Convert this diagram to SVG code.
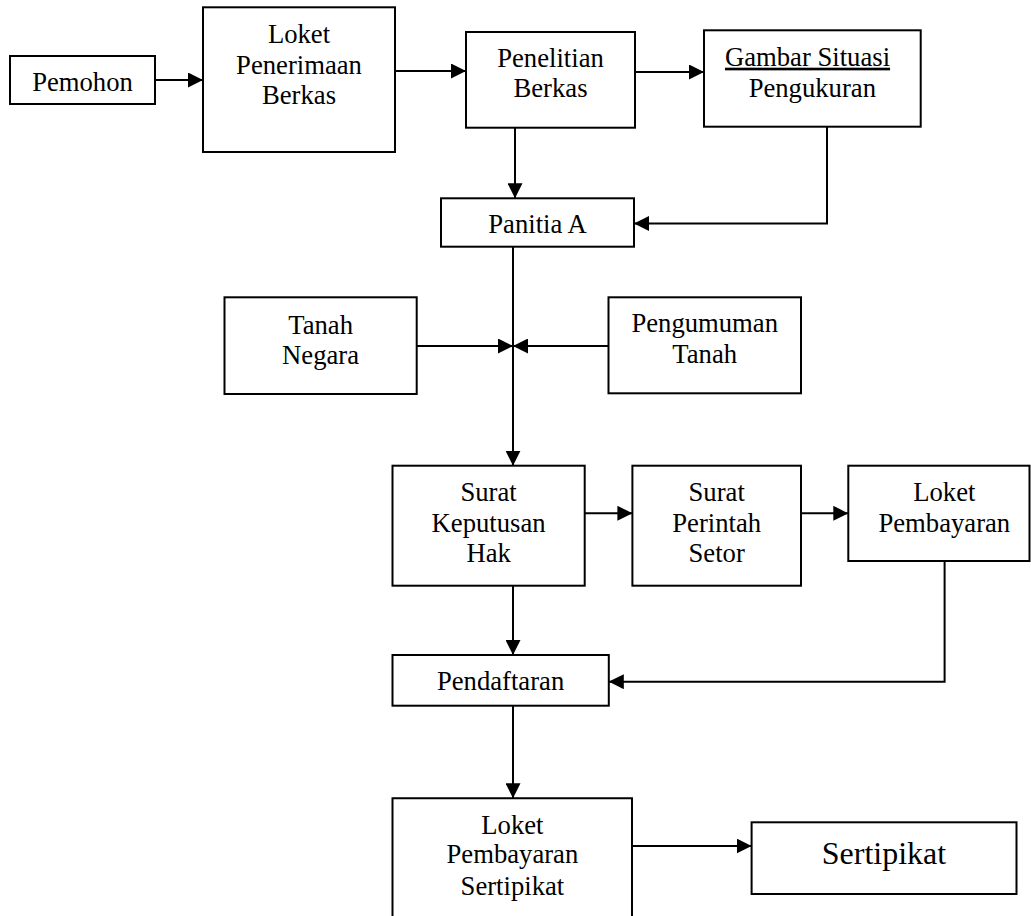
<svg xmlns="http://www.w3.org/2000/svg" width="1031" height="916" viewBox="0 0 1031 916">
<style>
.box{fill:#fff;stroke:#000;stroke-width:2}
.lbl{font-family:"Liberation Serif","Times New Roman",serif;font-size:26.67px;fill:#000;text-anchor:middle}
.big{font-size:32px}
.con{fill:none;stroke:#000;stroke-width:2;marker-end:url(#arr)}
.plain{fill:none;stroke:#000;stroke-width:2}
</style>
<defs>
<marker id="arr" markerUnits="userSpaceOnUse" markerWidth="15" markerHeight="15" refX="15" refY="7.5" orient="auto">
<path d="M0,0 L15,7.5 L0,15 z" fill="#000"/>
</marker>
</defs>
<rect width="1031" height="916" fill="#fff"/>
<g id="connectors">
<path class="con" d="M155,80 H203"/>
<path class="con" d="M395,71 H466"/>
<path class="con" d="M635,72 H704"/>
<path class="con" d="M515,127.7 V198.3"/>
<path class="con" d="M827,126.7 V223.5 H634"/>
<path class="con" d="M513,246.7 V465.7"/>
<path class="con" d="M416.7,346 H513"/>
<path class="con" d="M608.5,346 H513"/>
<path class="con" d="M584.7,513.3 H632.4"/>
<path class="con" d="M801,513.3 H848.3"/>
<path class="con" d="M513,585.7 V655"/>
<path class="con" d="M944.6,561 V681.7 H608.8"/>
<path class="con" d="M513,705.7 V798.3"/>
<path class="con" d="M632,846 H751.6"/>
</g>
<g id="pemohon">
<rect class="box" x="10" y="56" width="145" height="48"/>
<text class="lbl" x="82.5" y="90.7">Pemohon</text>
</g>
<g id="loket-penerimaan">
<rect class="box" x="203" y="7.3" width="192" height="144.7"/>
<text class="lbl" x="299" y="43.3">Loket</text>
<text class="lbl" x="299" y="74">Penerimaan</text>
<text class="lbl" x="299" y="104.3">Berkas</text>
</g>
<g id="penelitian">
<rect class="box" x="466" y="32" width="169" height="95.7"/>
<text class="lbl" x="550.5" y="66.7">Penelitian</text>
<text class="lbl" x="550.5" y="97.3">Berkas</text>
</g>
<g id="gambar-situasi">
<rect class="box" x="704" y="30.3" width="216.7" height="96.4"/>
<text class="lbl" x="807.5" y="65.7" text-decoration="underline">Gambar Situasi</text>
<text class="lbl" x="812.3" y="96.7">Pengukuran</text>
</g>
<g id="panitia-a">
<rect class="box" x="441" y="198.3" width="193" height="48.4"/>
<text class="lbl" x="537.5" y="233.3">Panitia A</text>
</g>
<g id="tanah-negara">
<rect class="box" x="224.5" y="297.3" width="192.2" height="96.7"/>
<text class="lbl" x="320.6" y="334">Tanah</text>
<text class="lbl" x="320.6" y="364">Negara</text>
</g>
<g id="pengumuman-tanah">
<rect class="box" x="608.5" y="297.3" width="192.5" height="96"/>
<text class="lbl" x="704.7" y="331.7">Pengumuman</text>
<text class="lbl" x="704.7" y="363.3">Tanah</text>
</g>
<g id="surat-keputusan">
<rect class="box" x="392.5" y="465.7" width="192.2" height="120"/>
<text class="lbl" x="488.6" y="500.7">Surat</text>
<text class="lbl" x="488.6" y="531.7">Keputusan</text>
<text class="lbl" x="488.6" y="562.3">Hak</text>
</g>
<g id="surat-perintah">
<rect class="box" x="632.4" y="465.7" width="168.6" height="120"/>
<text class="lbl" x="716.7" y="500.7">Surat</text>
<text class="lbl" x="716.7" y="531.7">Perintah</text>
<text class="lbl" x="716.7" y="562.3">Setor</text>
</g>
<g id="loket-pembayaran">
<rect class="box" x="848.3" y="465.7" width="181.2" height="95.3"/>
<text class="lbl" x="944.3" y="501">Loket</text>
<text class="lbl" x="944.3" y="531.7">Pembayaran</text>
</g>
<g id="pendaftaran">
<rect class="box" x="392.5" y="655" width="216.3" height="50.7"/>
<text class="lbl" x="500.6" y="690">Pendaftaran</text>
</g>
<g id="loket-pembayaran-sertipikat">
<path class="plain" d="M392.5,920 V798.3 H632 V920"/>
<text class="lbl" x="512.4" y="834">Loket</text>
<text class="lbl" x="512.4" y="863.3">Pembayaran</text>
<text class="lbl" x="512.4" y="895">Sertipikat</text>
</g>
<g id="sertipikat">
<rect class="box" x="751.6" y="822.3" width="264.9" height="71.7"/>
<text class="lbl big" x="884" y="864">Sertipikat</text>
</g>
</svg>
